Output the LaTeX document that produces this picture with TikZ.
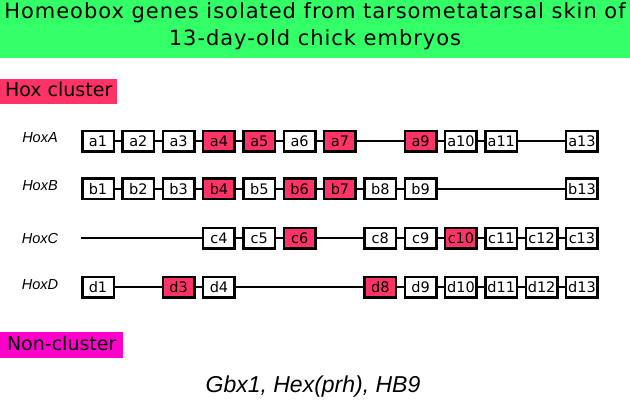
\documentclass[tikz,border=0pt]{standalone}
\usepackage{fontspec}
\setmainfont{DejaVu Sans}
\newfontfamily\itfont{Liberation Sans}
\newfontfamily\titlefont[LetterSpace=4.6]{DejaVu Sans}
\definecolor{titlegreen}{HTML}{33FF66}
\definecolor{hoxred}{HTML}{FF3366}
\definecolor{noncl}{HTML}{FF00CC}
\tikzset{
  gene/.style={draw=black, line width=2.5pt, minimum width=31.5pt, minimum height=20.5pt,
    inner sep=0pt, fill=white, text height=10.5pt, text depth=0pt,
    font=\fontsize{14.5}{14.5}\selectfont},
  hit/.style={gene, fill=hoxred},
  link/.style={line width=2pt, draw=black},
  rowlab/.style={font=\itfont\itshape\fontsize{14.5}{14.5}\selectfont, inner sep=0pt},
  header/.style={anchor=north west, inner sep=0pt, font=\fontsize{19}{19}\selectfont,
    text height=14pt, text depth=4pt},
  titletext/.style={font=\titlefont\fontsize{21}{21}\selectfont, inner sep=0pt}
}
\begin{document}
\begin{tikzpicture}[x=1pt,y=-1pt]
\useasboundingbox (0,0) rectangle (630,403);
% title
\node[fill=titlegreen, anchor=north west, minimum width=630pt, minimum height=58pt, inner sep=0pt] (titlebox) at (0,0) {};
\node[titletext] (t1) at (315,13) {Homeobox genes isolated from tarsometatarsal skin of};
\node[titletext] (t2) at (315,40) {13-day-old chick embryos};
% headers
\node[header, fill=hoxred, minimum width=117pt, minimum height=25pt] (hox) at (0,79) {Hox cluster};
\node[header, fill=noncl, minimum width=123pt, minimum height=26pt] (non) at (0,332) {Non-cluster};
% row labels
\node[rowlab] (la) at (40,138) {HoxA};
\node[rowlab] (lb) at (40,186) {HoxB};
\node[rowlab] (lc) at (40,239) {HoxC};
\node[rowlab] (ld) at (40,285) {HoxD};
% HoxA
\foreach \i/\st in {1/gene,2/gene,3/gene,4/hit,5/hit,6/gene,7/hit,9/hit,10/gene,11/gene,13/gene}
  \node[\st] (a\i) at ({98+(\i-1)*40.33},141.5) {a\i};
\foreach \p/\q in {1/2,2/3,3/4,4/5,5/6,6/7,7/9,9/10,10/11,11/13}
  \draw[link] (a\p) -- (a\q);
% HoxB
\foreach \i/\st in {1/gene,2/gene,3/gene,4/hit,5/gene,6/hit,7/hit,8/gene,9/gene,13/gene}
  \node[\st] (b\i) at ({98+(\i-1)*40.33},189) {b\i};
\foreach \p/\q in {1/2,2/3,3/4,4/5,5/6,6/7,7/8,8/9,9/13}
  \draw[link] (b\p) -- (b\q);
% HoxC
\coordinate (c0) at (81,238.5);
\foreach \i/\st in {4/gene,5/gene,6/hit,8/gene,9/gene,10/hit,11/gene,12/gene,13/gene}
  \node[\st] (c\i) at ({98+(\i-1)*40.33},238.5) {c\i};
\draw[link] (c0) -- (c4);
\foreach \p/\q in {4/5,5/6,6/8,8/9,9/10,10/11,11/12,12/13}
  \draw[link] (c\p) -- (c\q);
% HoxD
\foreach \i/\st in {1/gene,3/hit,4/gene,8/hit,9/gene,10/gene,11/gene,12/gene,13/gene}
  \node[\st] (d\i) at ({98+(\i-1)*40.33},287.5) {d\i};
\foreach \p/\q in {1/3,3/4,4/8,8/9,9/10,10/11,11/12,12/13}
  \draw[link] (d\p) -- (d\q);
% non-cluster genes
\node[font=\itfont\itshape\fontsize{23}{23}\selectfont, inner sep=0pt] (gbx) at (313,387) {Gbx1, Hex(prh), HB9};
\end{tikzpicture}
\end{document}
